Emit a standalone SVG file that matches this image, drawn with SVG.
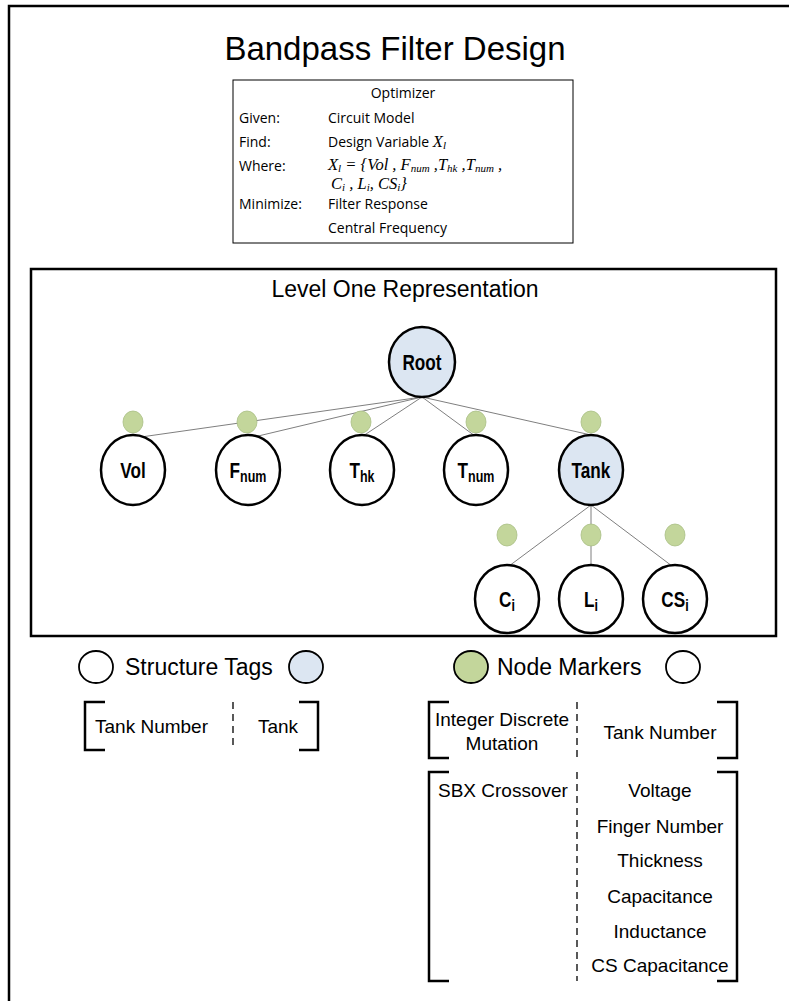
<svg xmlns="http://www.w3.org/2000/svg" width="789" height="1001" viewBox="0 0 789 1001">
<style>
.frame{fill:none;stroke:#000;stroke-width:2.5}
.node{fill:#fff;stroke:#000;stroke-width:2.5}
.tag{fill:#dce6f2;stroke:#000;stroke-width:2.5}
.mark{fill:#c3d69b;stroke:#a9bf85;stroke-width:0.8}
.edge{stroke:#7f7f7f;stroke-width:1;fill:none}
.br{fill:none;stroke:#000;stroke-width:2.5}
.dash{stroke:#000;stroke-width:1.3;stroke-dasharray:7,5;fill:none}
.sans{font-family:"Liberation Sans",Arial,sans-serif;fill:#000}
.cal{font-family:"Open Sans","Liberation Sans",sans-serif;font-size:14px;fill:#000}
.math{font-family:"Liberation Serif","Times New Roman",serif;font-style:italic;font-size:16.5px;fill:#000}
.nl{font-family:"Liberation Sans",Arial,sans-serif;font-weight:bold;font-size:22px;text-anchor:middle;fill:#000}
.b19{font-family:"Liberation Sans",Arial,sans-serif;font-size:19px;fill:#000}
</style>
<rect class="frame" x="9" y="6" width="800" height="1010"/>
<text class="sans" x="395" y="60" font-size="33" text-anchor="middle">Bandpass Filter Design</text>

<g id="optimizer">
<rect x="233" y="80" width="340" height="163" fill="#fff" stroke="#000" stroke-width="1"/>
<text class="cal" x="403" y="98" text-anchor="middle">Optimizer</text>
<text class="cal" x="239" y="123">Given:</text>
<text class="cal" x="328" y="123">Circuit Model</text>
<text class="cal" x="239" y="147">Find:</text>
<text class="cal" x="328" y="147">Design Variable <tspan class="math">X<tspan font-size="11" dy="2">l</tspan></tspan></text>
<text class="cal" x="239" y="171">Where:</text>
<text class="math" x="328" y="170">X<tspan font-size="11" dy="2">l</tspan><tspan dy="-2">  = {Vol , F</tspan><tspan font-size="11" dy="2">num</tspan><tspan dy="-2">  ,T</tspan><tspan font-size="11" dy="2">hk</tspan><tspan dy="-2"> ,T</tspan><tspan font-size="11" dy="2">num</tspan><tspan dy="-2"> ,</tspan></text>
<text class="math" x="331" y="189">C<tspan font-size="11" dy="2">i</tspan><tspan dy="-2"> , L</tspan><tspan font-size="11" dy="2">i</tspan><tspan dy="-2">, CS</tspan><tspan font-size="11" dy="2">i</tspan><tspan dy="-2">}</tspan></text>
<text class="cal" x="239" y="209">Minimize:</text>
<text class="cal" x="328" y="209">Filter Response</text>
<text class="cal" x="328" y="233">Central Frequency</text>
</g>

<g id="level-one">
<rect class="frame" x="31" y="269" width="745" height="367"/>
<text class="sans" x="405" y="297" font-size="23" text-anchor="middle">Level One Representation</text>
</g>

<g id="connectors">
<line class="edge" x1="422" y1="397" x2="141" y2="437"/>
<line class="edge" x1="422" y1="397" x2="254" y2="437"/>
<line class="edge" x1="422" y1="397" x2="363" y2="436"/>
<line class="edge" x1="422" y1="397" x2="475" y2="436"/>
<line class="edge" x1="422" y1="397" x2="591" y2="435"/>
<line class="edge" x1="591" y1="505" x2="509" y2="566"/>
<line class="edge" x1="591" y1="505" x2="591" y2="565"/>
<line class="edge" x1="591" y1="505" x2="672" y2="566"/>
</g>

<g id="markers">
<ellipse class="mark" cx="133" cy="422" rx="10" ry="11"/>
<ellipse class="mark" cx="247" cy="422" rx="10" ry="11"/>
<ellipse class="mark" cx="361" cy="422" rx="10" ry="11"/>
<ellipse class="mark" cx="476" cy="422" rx="10" ry="11"/>
<ellipse class="mark" cx="591" cy="422" rx="10" ry="11"/>
<ellipse class="mark" cx="507" cy="535" rx="10" ry="11"/>
<ellipse class="mark" cx="591" cy="535" rx="10" ry="11"/>
<ellipse class="mark" cx="675" cy="535" rx="10" ry="11"/>
</g>

<g id="node-root"><ellipse class="tag" cx="422" cy="362" rx="33" ry="35"/><text class="nl" transform="translate(422,370) scale(0.78,1)">Root</text></g>
<g id="node-vol"><ellipse class="node" cx="133" cy="470" rx="32" ry="35"/><text class="nl" transform="translate(133,478) scale(0.78,1)">Vol</text></g>
<g id="node-fnum"><ellipse class="node" cx="248" cy="470" rx="32" ry="35"/><text class="nl" transform="translate(248,478) scale(0.78,1)">F<tspan font-size="16" dy="4">num</tspan></text></g>
<g id="node-thk"><ellipse class="node" cx="362" cy="470" rx="32" ry="35"/><text class="nl" transform="translate(362,478) scale(0.78,1)">T<tspan font-size="16" dy="4">hk</tspan></text></g>
<g id="node-tnum"><ellipse class="node" cx="476" cy="470" rx="32" ry="35"/><text class="nl" transform="translate(476,478) scale(0.78,1)">T<tspan font-size="16" dy="4">num</tspan></text></g>
<g id="node-tank"><ellipse class="tag" cx="591" cy="470" rx="32" ry="35"/><text class="nl" transform="translate(591,478) scale(0.78,1)">Tank</text></g>
<g id="node-ci"><ellipse class="node" cx="507" cy="599" rx="32" ry="34"/><text class="nl" transform="translate(507,607) scale(0.78,1)">C<tspan font-size="16" dy="4">i</tspan></text></g>
<g id="node-li"><ellipse class="node" cx="591" cy="599" rx="32" ry="34"/><text class="nl" transform="translate(591,607) scale(0.78,1)">L<tspan font-size="16" dy="4">i</tspan></text></g>
<g id="node-csi"><ellipse class="node" cx="675" cy="599" rx="32" ry="34"/><text class="nl" transform="translate(675,607) scale(0.78,1)">CS<tspan font-size="16" dy="4">i</tspan></text></g>

<g id="legend-structure">
<ellipse cx="96" cy="667" rx="17" ry="16" fill="#fff" stroke="#000" stroke-width="1.8"/>
<text class="sans" x="125" y="675" font-size="23">Structure Tags</text>
<ellipse cx="306" cy="667" rx="17" ry="16" fill="#dce6f2" stroke="#000" stroke-width="1.8"/>
<polyline class="br" points="105,702 85,702 85,750 105,750"/>
<text class="b19" x="95" y="733">Tank Number</text>
<line class="dash" x1="233" y1="702" x2="233" y2="750"/>
<text class="b19" x="278" y="733" text-anchor="middle">Tank</text>
<polyline class="br" points="299,702 318,702 318,750 299,750"/>
</g>

<g id="legend-markers">
<ellipse cx="471" cy="667" rx="17" ry="16" fill="#c3d69b" stroke="#000" stroke-width="1.8"/>
<text class="sans" x="497" y="675" font-size="23">Node Markers</text>
<ellipse cx="683" cy="667" rx="17" ry="16" fill="#fff" stroke="#000" stroke-width="1.8"/>
<polyline class="br" points="449,702 429,702 429,758 449,758"/>
<text class="b19" x="502" y="726" text-anchor="middle">Integer Discrete</text>
<text class="b19" x="502" y="750" text-anchor="middle">Mutation</text>
<line class="dash" x1="577" y1="702" x2="577" y2="758"/>
<text class="b19" x="660" y="739" text-anchor="middle">Tank Number</text>
<polyline class="br" points="717,702 737,702 737,758 717,758"/>

<polyline class="br" points="449,772 429,772 429,981 449,981"/>
<text class="b19" x="438" y="797">SBX Crossover</text>
<line class="dash" x1="577" y1="772" x2="577" y2="981"/>
<text class="b19" x="660" y="797" text-anchor="middle">Voltage</text>
<text class="b19" x="660" y="833" text-anchor="middle">Finger Number</text>
<text class="b19" x="660" y="867" text-anchor="middle">Thickness</text>
<text class="b19" x="660" y="903" text-anchor="middle">Capacitance</text>
<text class="b19" x="660" y="938" text-anchor="middle">Inductance</text>
<text class="b19" x="660" y="972" text-anchor="middle">CS Capacitance</text>
<polyline class="br" points="717,772 737,772 737,981 717,981"/>
</g>
</svg>
